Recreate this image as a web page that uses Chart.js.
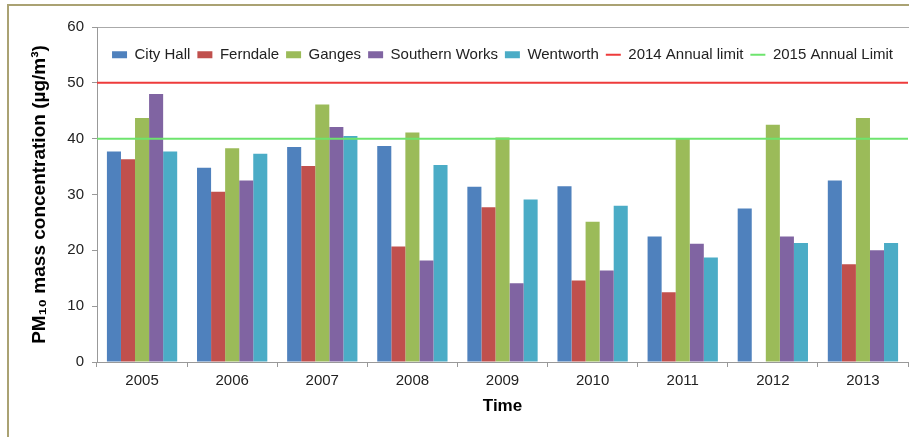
<!DOCTYPE html>
<html>
<head>
<meta charset="utf-8">
<title>PM10 mass concentration</title>
<script src="https://cdn.jsdelivr.net/npm/chart.js@4.4.1/dist/chart.umd.min.js"></script>
<style>
  body { margin: 0; background: #ffffff; }
  #moldura {
    position: absolute; left: 7px; top: 4px; width: 910px; height: 440px;
    border-top: 2px solid #aaa273; border-left: 2px solid #aaa273;
  }
  #caixa { position: absolute; left: 0; top: 0; width: 909px; height: 437px; }
</style>
</head>
<body>
<div id="moldura"></div>
<div id="caixa"><canvas id="graficoPM10"></canvas></div>
<script>
// ==========================================
// DADOS DO GRÁFICO
// ==========================================
const anos = ["2005", "2006", "2007", "2008", "2009", "2010", "2011", "2012", "2013"];

const cityHall      = [37.7, 34.8, 38.5, 38.7, 31.4, 31.5, 22.5, 27.5, 32.5];
const ferndale      = [36.3, 30.5, 35.1, 20.7, 27.7, 14.6, 12.5, null, 17.5];
const ganges        = [43.7, 38.3, 46.1, 41.1, 40.2, 25.1, 40.0, 42.5, 43.7];
const southernWorks = [48.0, 32.5, 42.1, 18.2, 14.1, 16.4, 21.2, 22.5, 20.0];
const wentworth     = [37.7, 37.3, 40.5, 35.3, 29.1, 28.0, 18.7, 21.3, 21.3];

// limites anuais (linhas horizontais)
const limite2014 = 50;
const limite2015 = 40;

const ticksY = [0, 10, 20, 30, 40, 50, 60];

// ==========================================
// MONTAGEM DOS DATASETS
// ==========================================
function barra(nome, valores, cor) {
  return {
    label: nome,
    data: valores,
    backgroundColor: cor,
    borderWidth: 0,
    categoryPercentage: 0.78,
    barPercentage: 1.0,
    order: 1
  };
}

// a linha usa um eixo x linear escondido (0 a 1) para cruzar o gráfico todo
// order 0 -> desenhada por cima das barras
function linha(nome, valor, cor) {
  return {
    type: "line",
    label: nome,
    data: [{ x: 0, y: valor }, { x: 1, y: valor }],
    xAxisID: "x2",
    borderColor: cor,
    backgroundColor: cor,
    borderWidth: 2,
    pointRadius: 0,
    order: 0
  };
}

// o Chart.js 4.5 divide a largura das barras pelo número de eixos x;
// aqui o eixo x2 só existe para as linhas, então conta-se um eixo só
if (Chart.BarController && Chart.BarController.prototype._getAxisCount) {
  Chart.BarController.prototype._getAxisCount = function () { return 1; };
}

// a legenda fica dentro da área do gráfico: não reserva altura no layout
let alturaLegenda = 0;
const legendaPorCima = {
  id: "legendaPorCima",
  beforeInit(chart) {
    const fitOriginal = chart.legend.fit;
    chart.legend.fit = function () {
      fitOriginal.call(this);
      alturaLegenda = this.height;
      this.height = 0;
    };
  },
  afterLayout(chart) {
    chart.legend.height = alturaLegenda;
    chart.legend.bottom = chart.legend.top + alturaLegenda;
  }
};

const canvas = document.getElementById("graficoPM10");

let grafico = new Chart(canvas, {
  type: "bar",
  data: {
    labels: anos,
    datasets: [
      barra("City Hall", cityHall, "#4f81bd"),
      barra("Ferndale", ferndale, "#c0504d"),
      barra("Ganges", ganges, "#9bbb59"),
      barra("Southern Works", southernWorks, "#8064a2"),
      barra("Wentworth", wentworth, "#4bacc6"),
      linha("2014 Annual limit", limite2014, "#ee3b3b"),
      linha("2015 Annual Limit", limite2015, "#6ee46e")
    ]
  },
  plugins: [legendaPorCima],
  options: {
    responsive: true,
    maintainAspectRatio: false,
    animation: false,
    layout: { padding: { left: 0, right: 1, top: 27, bottom: 0 } },
    plugins: {
      tooltip: { enabled: false },
      legend: {
        position: "top",
        align: "center",
        fullSize: false,
        title: { display: true, text: " ", font: { size: 1 }, padding: { top: 12, bottom: 0 } },
        labels: {
          color: "#222222",
          font: { family: "Liberation Sans, Arial, sans-serif", size: 15 },
          usePointStyle: true,
          pointStyleWidth: 15,
          boxHeight: 7,
          padding: 7,
          // mantém a ordem original na legenda (o "order" só muda o desenho)
          sort: (a, b) => a.datasetIndex - b.datasetIndex,
          generateLabels: function (chart) {
            const itens = Chart.defaults.plugins.legend.labels.generateLabels(chart);
            itens.forEach(function (item) {
              const ds = chart.data.datasets[item.datasetIndex];
              item.pointStyle = ds.type === "line" ? "line" : "rect";
              item.lineWidth = ds.type === "line" ? 2 : 0;
              item.strokeStyle = ds.type === "line" ? ds.borderColor : ds.backgroundColor;
            });
            return itens;
          }
        }
      }
    },
    scales: {
      x: {
        afterFit: function (escala) { escala.height = 75; },
        grid: { offset: true, drawOnChartArea: false, tickLength: 5, color: "#999999" },
        border: { color: "#999999" },
        ticks: {
          color: "#222222",
          padding: 5,
          font: { family: "Liberation Sans, Arial, sans-serif", size: 15 }
        },
        title: {
          display: true,
          text: "Time",
          color: "#000000",
          padding: { top: 0, bottom: 20 },
          font: { family: "Liberation Sans, Arial, sans-serif", size: 17, weight: "bold" }
        }
      },
      x2: {
        type: "linear",
        position: "top",
        offset: false,
        min: 0,
        max: 1,
        grid: { display: false, drawTicks: false, offset: false },
        ticks: { display: false },
        border: { display: true, color: "#aaaaaa" }
      },
      y: {
        min: 0,
        max: 60,
        afterFit: function (escala) { escala.width = 97; },
        afterBuildTicks: function (escala) { escala.ticks = ticksY.map(v => ({ value: v })); },
        grid: { drawOnChartArea: false, tickLength: 5, color: "#999999" },
        border: { color: "#999999" },
        ticks: {
          color: "#222222",
          padding: 8,
          font: { family: "Liberation Sans, Arial, sans-serif", size: 15 }
        },
        title: {
          display: true,
          text: "PM\u2081\u2080 mass concentration (\u00b5g/m\u00b3)",
          color: "#000000",
          padding: { top: 28, bottom: 0 },
          font: { family: "Liberation Sans, Arial, sans-serif", size: 19, weight: "bold" }
        }
      }
    }
  }
});
</script>
</body>
</html>
